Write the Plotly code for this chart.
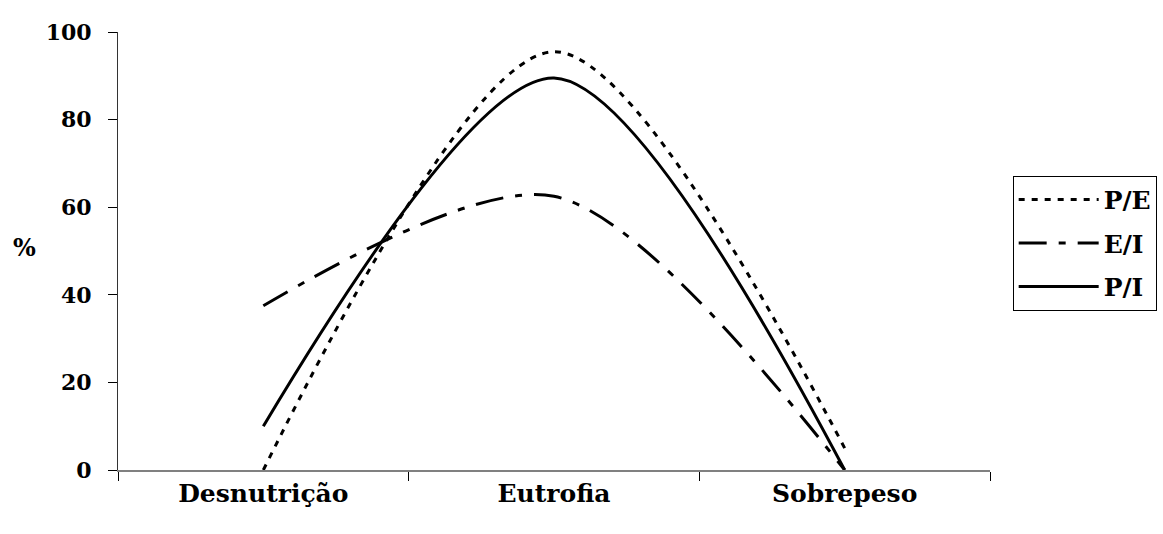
import plotly.graph_objects as go

categories = ["Desnutrição", "Eutrofia", "Sobrepeso"]
pe_values = [0, 95.5, 5]
ei_values = [37.5, 62.5, 0]
pi_values = [10, 89.5, 0]
y_ticks = [0, 20, 40, 60, 80, 100]

FONT = "DejaVu Serif"

fig = go.Figure()
series = [
    ("P/E", pe_values, "6px,7px"),
    ("E/I", ei_values, "28px,12px,7px,12px"),
    ("P/I", pi_values, "solid"),
]
for name, vals, dash in series:
    fig.add_trace(go.Scatter(
        x=categories, y=vals, name=name, mode="lines",
        line=dict(color="black", width=3, dash=dash, shape="spline", smoothing=0.85),
        legendgroup=name,
    ))

fig.update_layout(
    width=1163, height=534,
    margin=dict(l=118, r=173, t=32, b=64, autoexpand=False),
    plot_bgcolor="white", paper_bgcolor="white",
    font=dict(family=FONT, size=22, color="black", weight="bold"),
    showlegend=True,
    legend=dict(
        x=1.026, y=0.672, xanchor="left", yanchor="top",
        bordercolor="black", borderwidth=1, bgcolor="white",
        font=dict(family=FONT, size=25, color="black", weight="bold"),
        itemwidth=80, tracegroupgap=8,
    ),
    xaxis=dict(
        type="category", range=[-0.5, 2.5], tickson="boundaries",
        ticks="outside", ticklen=9, tickcolor="black",
        showline=True, linecolor="#808080", linewidth=2,
        showgrid=False, zeroline=False,
        tickfont=dict(family=FONT, size=25, weight="bold"),
    ),
    yaxis=dict(
        range=[0, 100], tickvals=y_ticks,
        ticks="outside", ticklen=9, tickcolor="black",
        showline=True, linecolor="#333333", linewidth=1,
        showgrid=False, zeroline=False,
        ticklabelstandoff=12,
        tickfont=dict(family=FONT, size=22, weight="bold"),
    ),
    annotations=[dict(
        text="%", x=-0.107, y=0.507, xref="paper", yref="paper",
        xanchor="center", yanchor="middle",
        showarrow=False, font=dict(family=FONT, size=24, weight="bold"),
    )],
)

fig.write_html("out.html")
